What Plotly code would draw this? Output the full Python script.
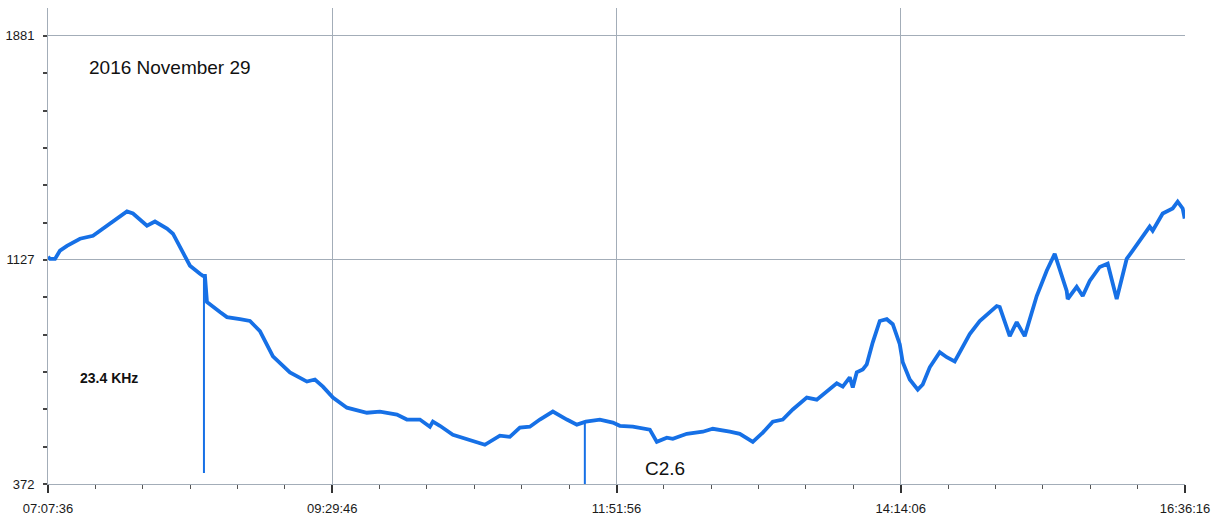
import plotly.graph_objects as go
import numpy as np
import pandas as pd

DAY = "2016-11-29 "

times = [
    "07:07:36", "07:08:36", "07:11:06", "07:13:36", "07:17:06", "07:23:36", "07:30:06",
    "07:40:06", "07:47:06", "07:50:06", "07:57:06", "08:01:06", "08:07:06", "08:10:06",
    "08:15:06", "08:18:36", "08:23:36", "08:25:06", "08:26:06", "08:27:06", "08:33:36",
    "08:37:06", "08:43:36", "08:48:36", "08:53:36", "09:00:06", "09:08:36", "09:17:06",
    "09:21:06", "09:25:06", "09:30:06", "09:37:06", "09:47:06", "09:53:36", "10:02:06",
    "10:07:06", "10:13:36", "10:18:36", "10:20:06", "10:23:36", "10:30:06", "10:38:36",
    "10:46:06", "10:53:36", "10:58:36", "11:03:36", "11:08:36", "11:13:36", "11:20:06",
    "11:27:06", "11:32:06", "11:36:36", "11:43:36", "11:50:06", "11:53:36", "12:00:06",
    "12:08:36", "12:12:06", "12:17:06", "12:20:06", "12:27:06", "12:35:06", "12:40:06",
    "12:48:36", "12:53:36", "13:00:06", "13:05:06", "13:10:06", "13:15:06", "13:20:06",
    "13:27:06", "13:32:06", "13:38:36", "13:42:06", "13:45:06", "13:48:36", "13:50:06",
    "13:52:06", "13:55:06", "13:57:06", "14:00:06", "14:03:36", "14:07:06", "14:10:06",
    "14:13:36", "14:15:06", "14:18:36", "14:22:36", "14:25:06", "14:28:36", "14:33:36",
    "14:37:06", "14:41:06", "14:45:06", "14:48:36", "14:53:36", "15:02:06", "15:03:36",
    "15:08:36", "15:12:06", "15:16:06", "15:22:06", "15:27:06", "15:31:06", "15:37:06",
    "15:37:36", "15:42:06", "15:45:06", "15:48:36", "15:53:36", "15:57:36", "16:02:06",
    "16:07:06", "16:10:06", "16:15:06", "16:18:36", "16:20:06", "16:25:06", "16:30:06",
    "16:32:36", "16:35:06", "16:36:06",
]

values = [
    1137, 1130, 1130, 1158, 1174, 1198, 1208,
    1256, 1290, 1283, 1242, 1256, 1232, 1215,
    1154, 1107, 1080, 1073, 1073, 985, 951,
    934, 927, 921, 887, 802, 748, 717,
    724, 700, 663, 629, 612, 616, 606,
    589, 589, 565, 582, 568, 538, 521,
    504, 535, 531, 562, 565, 589, 616,
    589, 572, 582, 589, 579, 568, 565,
    555, 514, 528, 524, 541, 548, 558,
    548, 541, 514, 545, 582, 589, 623,
    663, 656, 690, 711, 700, 731, 697,
    748, 758, 775, 849, 921, 927, 910,
    843, 782, 724, 690, 707, 765, 816,
    799, 785, 836, 877, 921, 971, 968,
    870, 917, 870, 1005, 1090, 1147, 1022,
    995, 1036, 1005, 1056, 1103, 1114, 995,
    1130, 1158, 1208, 1239, 1225, 1283, 1300,
    1323, 1300, 1266,
]

# short spikes (thin vertical drops)
spike_times = ["08:25:36", "11:36:06"]
spike_tops = [1073, 582]
spike_bottoms = [409, 372]

major_tick_times = ["07:07:36", "09:29:46", "11:51:56", "14:14:06", "16:36:16"]
y_tick_vals = [372, 1127, 1881]
y_tick_text = ["372", "1127", "1881"]

title_text = "2016 November 29"
freq_text = "23.4 KHz"
flare_text = "C2.6"

x = [DAY + t for t in times]
sx, sy = [], []
for t, top, bot in zip(spike_times, spike_tops, spike_bottoms):
    sx += [DAY + t, DAY + t, None]
    sy += [top, bot, None]

major_ticks = [DAY + t for t in major_tick_times]
minor_ticks = [d.strftime("%Y-%m-%d %H:%M:%S") for d in
               pd.date_range(major_ticks[0], major_ticks[-1], periods=25)]
y_minor = list(np.linspace(y_tick_vals[0], y_tick_vals[-1], 13))

LINE = "#1670e6"
GRID = "#a3adb8"

fig = go.Figure()
fig.add_trace(go.Scatter(x=sx, y=sy, mode="lines",
                         line=dict(color=LINE, width=2), hoverinfo="skip",
                         showlegend=False))
fig.add_trace(go.Scatter(x=x, y=values, mode="lines",
                         line=dict(color=LINE, width=3.8), showlegend=False))

fig.update_layout(
    width=1213, height=520,
    margin=dict(l=48, r=28, t=8, b=36, autoexpand=False),
    paper_bgcolor="white", plot_bgcolor="white",
    font=dict(family="Liberation Sans, Arial, sans-serif", size=13, color="#1a1a1a"),
    xaxis=dict(
        type="date", automargin=False,
        range=[major_ticks[0], major_ticks[-1]],
        tickmode="array", tickvals=major_ticks, ticktext=major_tick_times,
        ticks="outside", ticklen=8, tickwidth=1.5, tickcolor="#333",
        showgrid=True, gridcolor=GRID, gridwidth=1,
        showline=True, linecolor=GRID, linewidth=1,
        zeroline=False, ticklabeloverflow="allow", ticklabelstandoff=4,
        minor=dict(tickmode="array", tickvals=minor_ticks, ticks="outside",
                   ticklen=4, tickwidth=1.2, tickcolor="#555", showgrid=False),
    ),
    yaxis=dict(
        range=[372, 1975], automargin=False,
        tickmode="array", tickvals=y_tick_vals, ticktext=y_tick_text,
        ticks="outside", ticklen=3, tickwidth=1.5, tickcolor="#444",
        showgrid=True, gridcolor=GRID, gridwidth=1,
        showline=True, linecolor=GRID, linewidth=1,
        zeroline=False, ticklabelstandoff=7,
        minor=dict(tickmode="array", tickvals=y_minor, ticks="outside",
                   ticklen=4, tickwidth=1.5, tickcolor="#444", showgrid=False),
    ),
    annotations=[
        dict(text=title_text, xref="paper", yref="paper", x=0.034, y=0.874,
             xanchor="left", yanchor="middle", showarrow=False,
             font=dict(size=19, color="#111")),
        dict(text="<b>" + freq_text + "</b>", xref="paper", yref="paper", x=0.026, y=0.222,
             xanchor="left", yanchor="middle", showarrow=False,
             font=dict(size=14, color="#111")),
        dict(text=flare_text, xref="paper", yref="paper", x=0.523, y=0.032,
             xanchor="left", yanchor="middle", showarrow=False,
             font=dict(size=19, color="#111")),
    ],
)

fig.write_html("out.html")
